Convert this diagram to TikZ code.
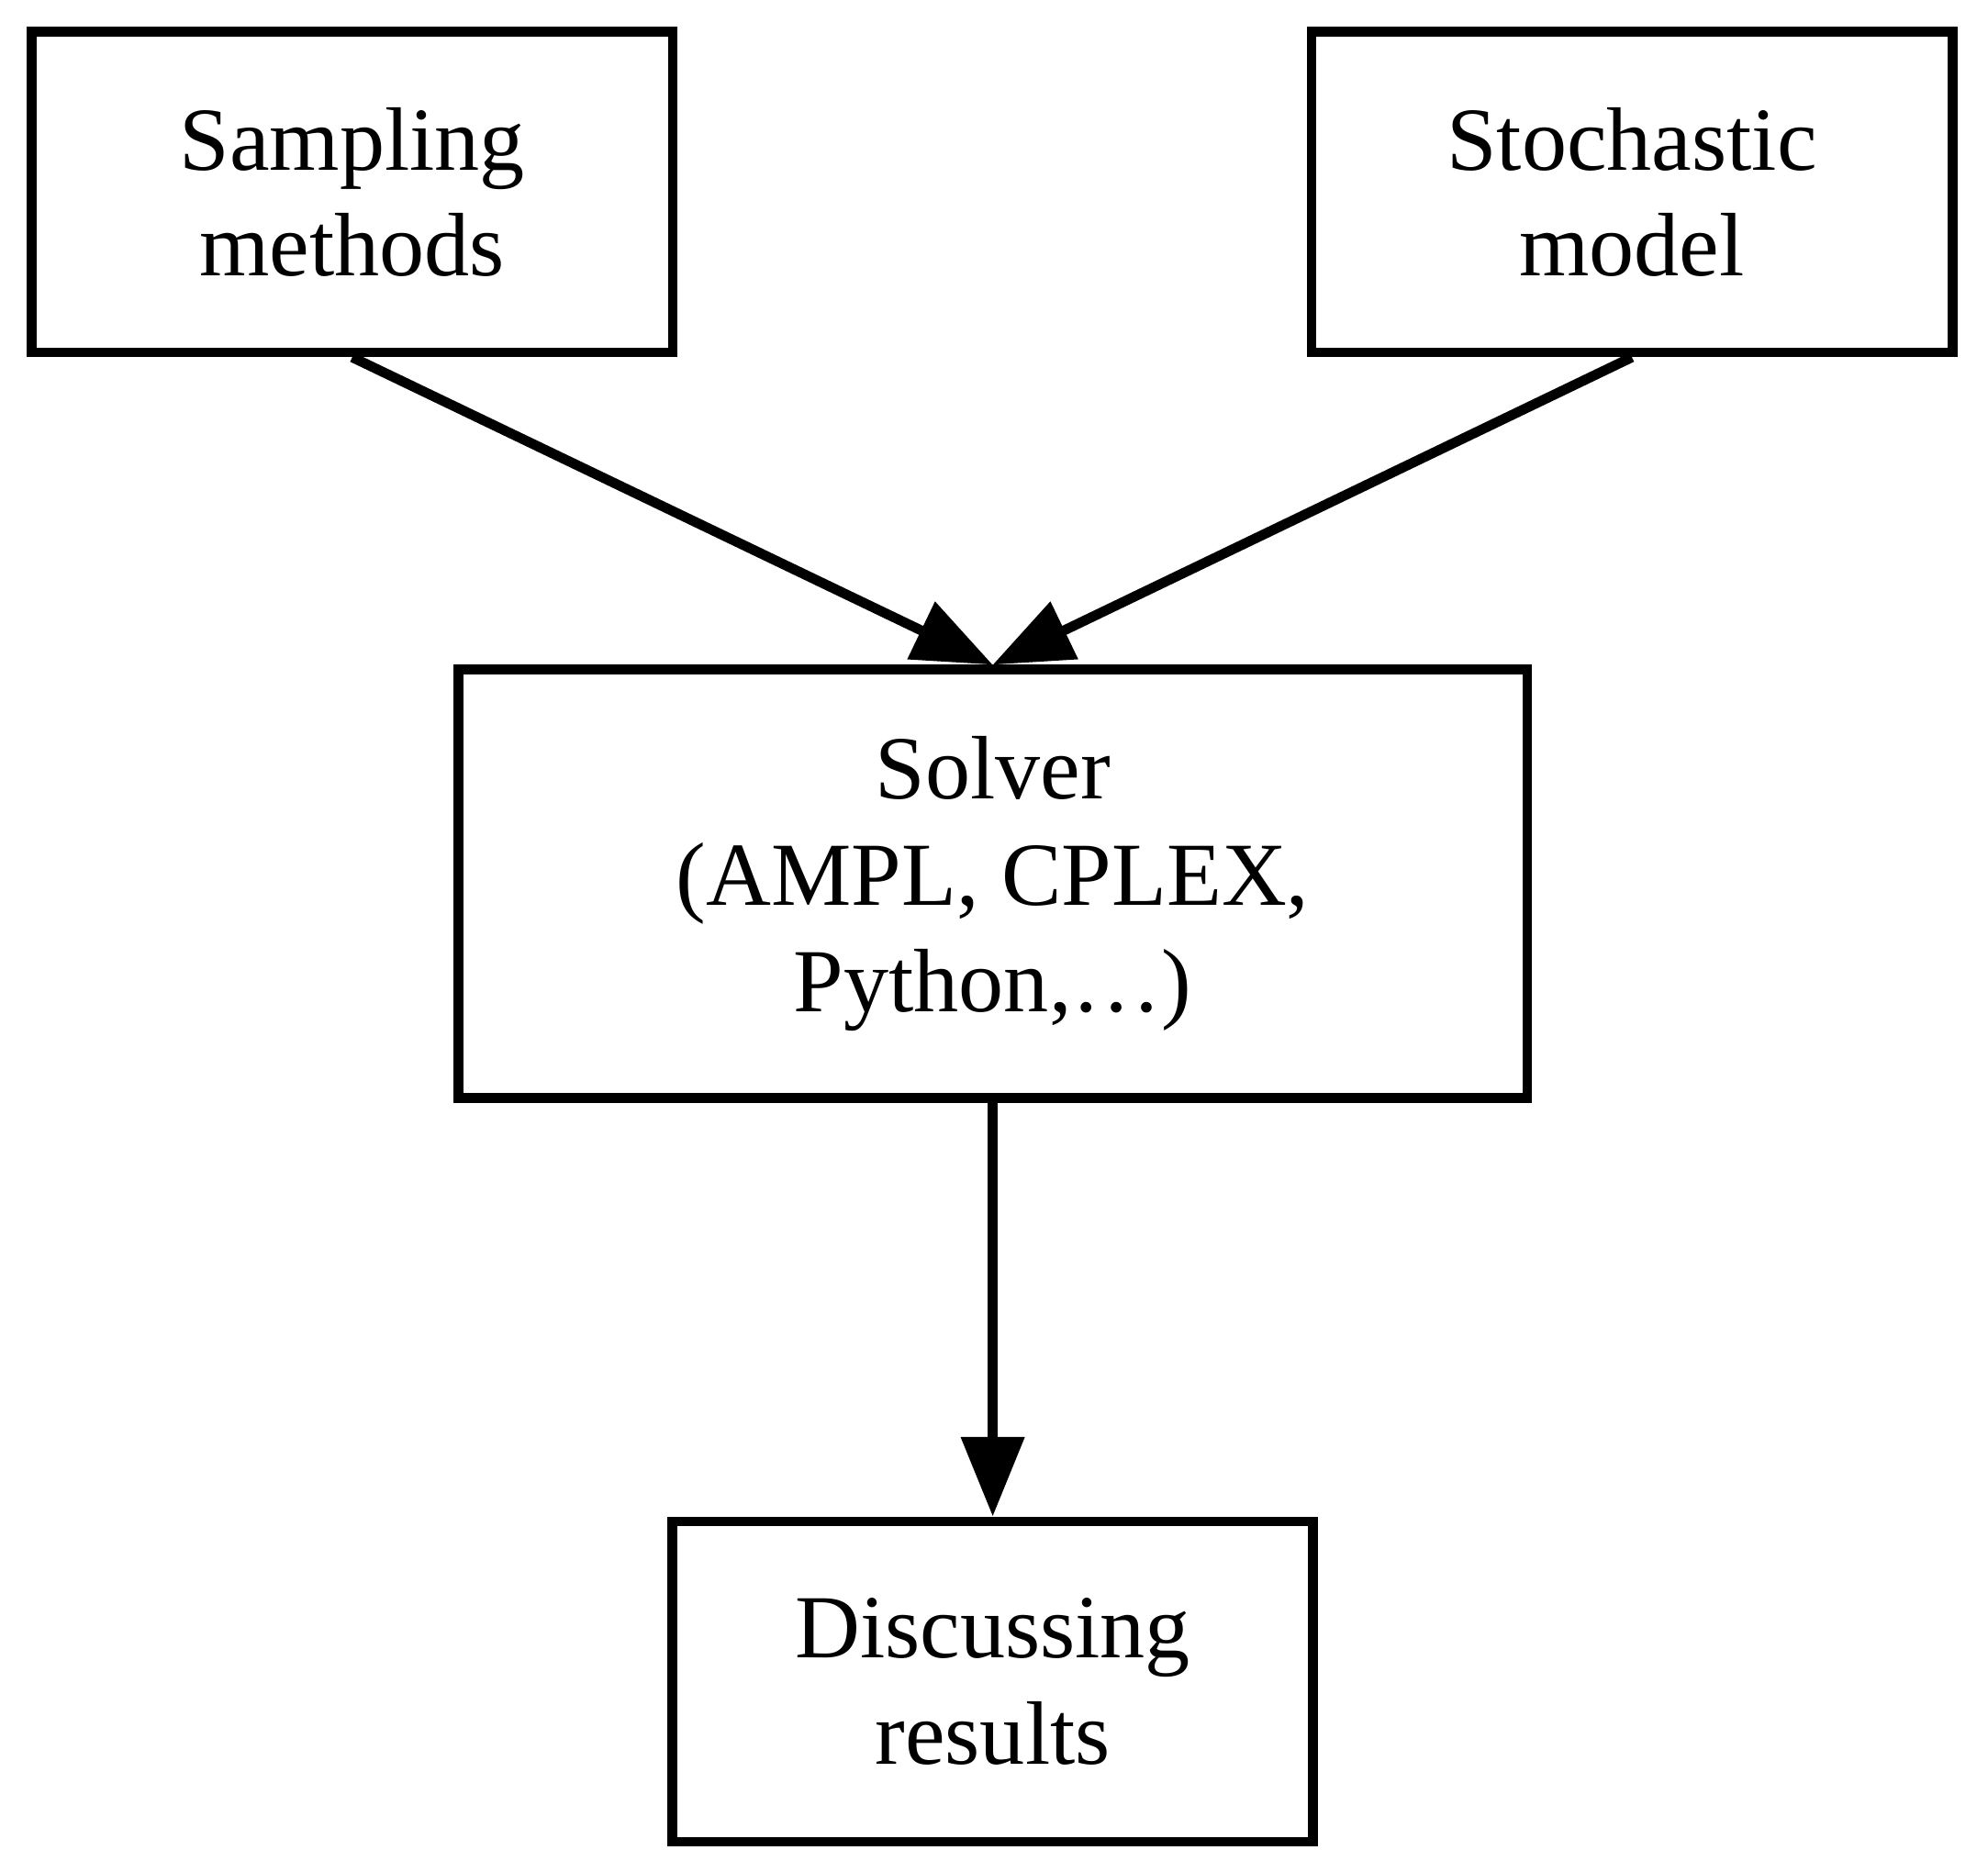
\documentclass[tikz,border=0pt]{standalone}
\usepackage{fontspec}
\setmainfont{Liberation Serif}
\usetikzlibrary{arrows.meta}
\begin{document}
\begin{tikzpicture}[x=0.01cm,y=-0.01cm,
  box/.style={draw,line width=2.2pt,minimum width=5cm,minimum height=2.5cm,align=center,inner sep=0pt,font=\fontsize{20}{23.6}\selectfont},
  arr/.style={line width=2.2pt,-{Triangle[length=0.62cm,width=0.48cm]}}]
\useasboundingbox (0,0) rectangle (1552,1444);
\node[box] (a) at (275,150) {Sampling\\methods};
\node[box] (b) at (1274,150) {Stochastic\\model};
\node[box,minimum width=8.34cm,minimum height=3.34cm] (c) at (775,690) {Solver\\(AMPL, CPLEX,\\Python,…)};
\node[box] (d) at (775,1313) {Discussing\\results};
\draw[arr] (a.south) -- (c.north);
\draw[arr] (b.south) -- (c.north);
\draw[arr] (c.south) -- (d.north);
\end{tikzpicture}
\end{document}
